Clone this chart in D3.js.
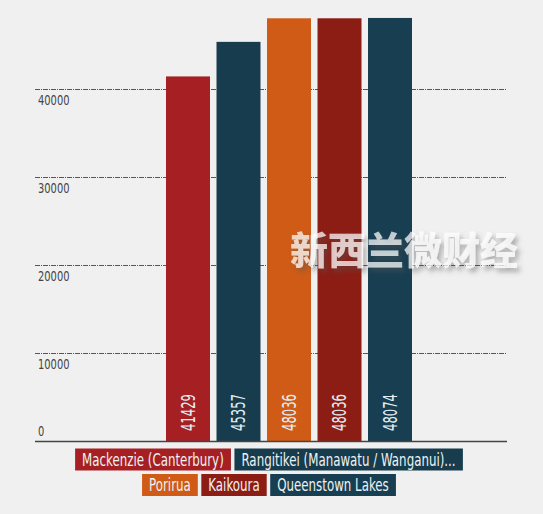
<!DOCTYPE html>
<html>
<head>
<meta charset="utf-8">
<script src="https://cdn.jsdelivr.net/npm/d3@7"></script>
<style>
  body { margin: 0; background: #f0f0f0; }
  svg { display: block; }
  text { font-family: "DejaVu Sans Condensed", "DejaVu Sans", sans-serif; }
</style>
</head>
<body>
<svg id="chart"></svg>
<script>
// data
var regions = ["Mackenzie (Canterbury)", "Rangitikei (Manawatu / Wanganui)...", "Porirua", "Kaikoura", "Queenstown Lakes"]
var incomes = [41429, 45357, 48036, 48036, 48074]
var colours = ["#a51f23", "#173c4d", "#cf5b16", "#8c1d15", "#183e51"]
var ticks = [0, 10000, 20000, 30000, 40000]

var width = 543, height = 514
var svg = d3.select("#chart").attr("width", width).attr("height", height)

// the original font is a narrow one, so squash horizontally
var tickK = 0.76, valueK = 0.68, legendK = 0.775

var x = d3.scaleBand()
  .domain(regions)
  .range([166, 412])
  .paddingInner(0.129)
  .paddingOuter(0)

var y = d3.scaleLinear()
  .domain([0, 50000])
  .range([441, 1])

// grid lines
svg.append("g").selectAll("line")
  .data(ticks.filter(function(d) { return d > 0 }))
  .enter().append("line")
  .attr("x1", 35).attr("x2", 507)
  .attr("y1", function(d) { return y(d) + 0.5 })
  .attr("y2", function(d) { return y(d) + 0.5 })
  .attr("stroke", "#555")
  .attr("stroke-width", 1)
  .attr("stroke-dasharray", "5,1,1,1")

svg.append("g").selectAll("text")
  .data(ticks)
  .enter().append("text")
  .attr("transform", function(d) {
    return "translate(38," + (d == 0 ? y(d) - 5 : y(d) + 16) + ") scale(" + tickK + ",1)"
  })
  .attr("font-size", 14.5)
  .attr("fill", "#444")
  .text(function(d) { return d })

// bars
svg.append("g").selectAll("rect")
  .data(incomes)
  .enter().append("rect")
  .attr("x", function(d, i) { return x(regions[i]) })
  .attr("y", function(d) { return y(d) })
  .attr("width", x.bandwidth())
  .attr("height", function(d) { return y(0) - y(d) })
  .attr("fill", function(d, i) { return colours[i] })

svg.append("g").selectAll("text")
  .data(incomes)
  .enter().append("text")
  .attr("transform", function(d, i) {
    return "translate(" + (x(regions[i]) + x.bandwidth() / 2) + "," + (y(0) - 10) + ") rotate(-90) scale(" + valueK + ",1)"
  })
  .attr("dy", "0.36em")
  .attr("font-size", 19)
  .attr("fill", "#e2eef4")
  .text(function(d) { return d })

// baseline
svg.append("line")
  .attr("x1", 35).attr("x2", 507)
  .attr("y1", y(0) + 0.5).attr("y2", y(0) + 0.5)
  .attr("stroke", "#444")
  .attr("stroke-width", 1.3)

// legend, wrapped into centred rows
var legend = svg.append("g")
var items = legend.selectAll("g")
  .data(regions)
  .enter().append("g")
items.append("rect")
  .attr("height", 22)
  .attr("fill", function(d, i) { return colours[i] })
items.append("text")
  .attr("font-size", 17)
  .attr("fill", "#eef2f3")
  .text(function(d) { return d })

var pad = 7, gap = 3.5, maxRow = 420, rowTop = 448.5, rowH = 25.5
var rows = [[]], rowW = [0]
items.each(function(d, i) {
  var t = d3.select(this).select("text").node()
  var w = t.getComputedTextLength() * legendK + pad * 2
  var r = rows.length - 1
  var add = rows[r].length ? w + gap : w
  if (rowW[r] + add > maxRow) { rows.push([]); rowW.push(0); r++; add = w }
  rows[r].push({ node: this, w: w })
  rowW[r] += add
})
rows.forEach(function(row, r) {
  var cx = 269 - rowW[r] / 2
  row.forEach(function(it) {
    var g = d3.select(it.node).attr("transform", "translate(" + cx + "," + (rowTop + r * rowH) + ")")
    g.select("rect").attr("width", it.w)
    g.select("text").attr("transform", "translate(" + pad + ",17) scale(" + legendK + ",1)")
    cx += it.w + gap
  })
})

// watermark
var defs = svg.append("defs")
var f = defs.append("filter").attr("id", "shadow").attr("x", "-10%").attr("y", "-30%").attr("width", "130%").attr("height", "180%")
f.append("feDropShadow").attr("dx", 3).attr("dy", 4).attr("stdDeviation", 2.5).attr("flood-color", "#555").attr("flood-opacity", 0.6)

svg.append("text")
  .attr("x", 290)
  .attr("y", 264)
  .attr("font-weight", 900)
  .attr("font-size", 38)
  .attr("fill", "#ffffff")
  .attr("fill-opacity", 0.72)
  .attr("filter", "url(#shadow)")
  .style("font-family", "'Noto Sans CJK SC'")
  .text("新西兰微财经")
</script>
</body>
</html>
